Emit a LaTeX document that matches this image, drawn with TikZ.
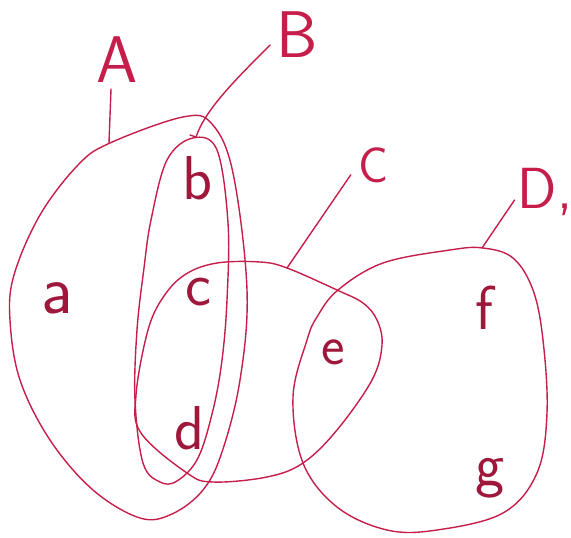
\documentclass[tikz,border=0pt]{standalone}
\usepackage{fontspec}
\begin{document}
\begin{tikzpicture}[x=1pt,y=-1pt,
  ink/.style={draw=penred,line width=1.4pt,line join=round,line cap=round},
  setlbl/.style={text=penred,inner sep=0pt,font=\sffamily\fontsize{66}{66}\selectfont},
  elemlbl/.style={text=penred!80!black,inner sep=0pt,font=\sffamily\fontsize{62}{62}\selectfont}]
\definecolor{penred}{RGB}{198,30,74}
\useasboundingbox (0,0) rectangle (571,538);
% Set A
\draw[ink] plot[smooth cycle,tension=0.6] coordinates {
 (110,143) (183,117) (212,124) (233,173) (247,290) (240,380) (222,452) (203,490)
 (172,514) (140,518) (93,490) (50,440) (20,380) (10,320) (14,275) (40,215) (78,165)};
% Set B
\draw[ink] plot[smooth cycle,tension=0.6] coordinates {
 (193,138) (217,150) (228,223) (227,300) (222,360) (213,410) (198,458) (177,481)
 (160,482) (143,463) (135,400) (137,330) (144,268) (151,220) (167,160)};
% Set C
\draw[ink] plot[smooth cycle,tension=0.6] coordinates {
 (217,263) (260,262) (287,268) (337,290) (363,303) (377,320) (382,345) (372,380)
 (337,430) (303,463) (267,477) (213,482) (187,473) (141,433) (136,395) (148,330)
 (164,296) (186,274)};
% Set D
\draw[ink] plot[smooth cycle,tension=0.6] coordinates {
 (307,340) (317,317) (338,290) (383,263) (450,250) (483,248) (513,258) (533,290)
 (543,340) (547,413) (537,473) (503,513) (437,530) (387,530) (337,507) (303,463)
 (293,397)};
% set labels
\node[setlbl] (labA) at (117,60) {A};
\node[setlbl] (labB) at (297,35) {B};
\node[setlbl,font=\sffamily\fontsize{50}{50}\selectfont] (labC) at (374,165) {C};
\node[setlbl,font=\sffamily\fontsize{58}{58}\selectfont] (labD) at (545,192) {D,};
% points on the set outlines
\coordinate (tA) at (109,143);
\coordinate (tB) at (196,137);
\coordinate (tC) at (287,268);
\coordinate (tD) at (482,248);
% leaders
\draw[ink] (labA.south) ++(-6,6) -- (tA);
\draw[ink] (labB.west) ++(-6,10) .. controls (235,80) and (205,110) .. (tB);
\draw[ink] (tB) -- ++(-6,-2);
\draw[ink] (labC.south west) ++(-8,-8) -- (tC);
\draw[ink] (labD.west) ++(-3,8) -- (tD);
% elements
\node[elemlbl,font=\sffamily\fontsize{70}{70}\selectfont] (ea) at (57,298) {a};
\node[elemlbl] (eb) at (198,178) {b};
\node[elemlbl] (ec) at (198,292) {c};
\node[elemlbl] (ed) at (190,428) {d};
\node[elemlbl,font=\sffamily\fontsize{56}{56}\selectfont] (ee) at (333,352) {e};
\node[elemlbl] (ef) at (484,308) {f};
\node[elemlbl] (eg) at (490,478) {g};
\end{tikzpicture}
\end{document}
